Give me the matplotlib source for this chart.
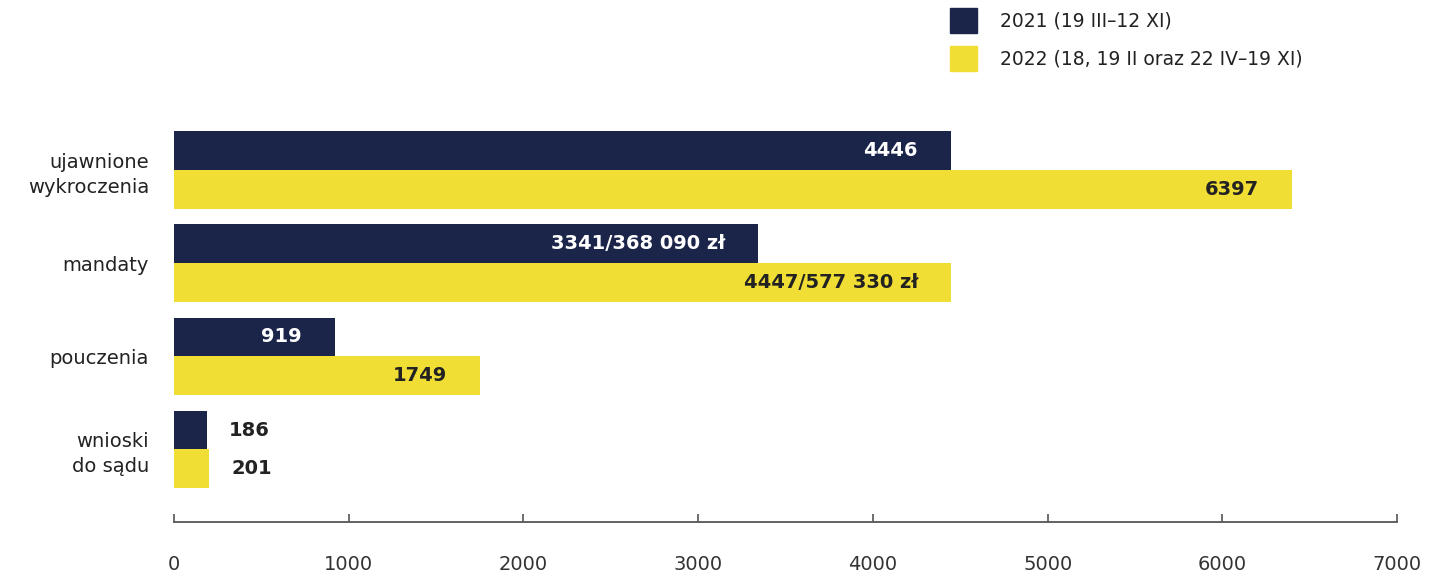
import numpy as np
import matplotlib.pyplot as plt
from matplotlib.patches import Patch

# Dane
kategorie = ['ujawnione\nwykroczenia', 'mandaty', 'pouczenia', 'wnioski\ndo sądu']
wartosci_2021 = [4446, 3341, 919, 186]
wartosci_2022 = [6397, 4447, 1749, 201]
etykiety_2021 = ['4446', '3341/368 090 zł', '919', '186']
etykiety_2022 = ['6397', '4447/577 330 zł', '1749', '201']
seria = ['2021 (19 III–12 XI)', '2022 (18, 19 II oraz 22 IV–19 XI)']
ticki = [0, 1000, 2000, 3000, 4000, 5000, 6000, 7000]

granat = '#1b2549'
zolty = '#f0de34'
tekst = '#222222'

plt.rcParams['font.family'] = ['DejaVu Sans']

fig = plt.figure(figsize=(14.3, 5.76), dpi=100)
ax = fig.add_axes([0.1217, 0.09375, 0.8553, 0.7326])

y = np.arange(len(kategorie))
h = 0.415
ax.barh(y - h / 2, wartosci_2021, height=h, color=granat)
ax.barh(y + h / 2, wartosci_2022, height=h, color=zolty)

px = 7000 / 1223.0  # jednostki danych na piksel
for i in range(len(kategorie)):
    for v, lab, yy, kol in [(wartosci_2021[i], etykiety_2021[i], y[i] - h / 2, 'white'),
                            (wartosci_2022[i], etykiety_2022[i], y[i] + h / 2, tekst)]:
        if v > 500:
            ax.text(v - 33 * px, yy, lab, ha='right', va='center', color=kol,
                    fontsize=14, fontweight='bold')
        else:
            ax.text(v + 22 * px, yy, lab, ha='left', va='center', color=tekst,
                    fontsize=14, fontweight='bold')

ax.set_xlim(0, 7000)
ax.set_ylim(3.778, -0.75)
ax.set_xticks(ticki)
ax.set_xticklabels([str(t) for t in ticki], fontsize=14, color='#333333')
ax.set_yticks(y)
ax.set_yticklabels(kategorie, fontsize=14, color=tekst, linespacing=1.4)
ax.tick_params(axis='y', length=0, pad=18)
ax.tick_params(axis='x', direction='in', length=6, width=1.2, color='#555555', pad=24)
for s in ['top', 'right', 'left']:
    ax.spines[s].set_visible(False)
ax.spines['bottom'].set_color('#555555')
ax.spines['bottom'].set_linewidth(1.3)

uchwyty = [Patch(color=granat), Patch(color=zolty)]
leg = fig.legend(uchwyty, seria, loc='upper left', bbox_to_anchor=(950 / 1430, 1 - 8 / 576),
                 frameon=False, fontsize=13.5, handlelength=1.45, handleheight=1.65,
                 handletextpad=1.2, labelspacing=0.7, borderpad=0, borderaxespad=0)
for t in leg.get_texts():
    t.set_color(tekst)

fig.savefig('out.png', dpi=100)
